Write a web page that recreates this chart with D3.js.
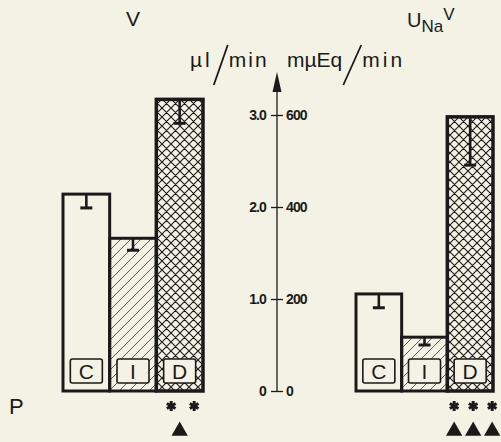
<!DOCTYPE html>
<html>
<head>
<meta charset="utf-8">
<script src="https://cdn.jsdelivr.net/npm/d3@7"></script>
<style>
  html, body { margin: 0; padding: 0; background: #f4f2e5; }
  svg { display: block; }
  text { font-family: "Liberation Sans", Arial, sans-serif; fill: #1a1a1a; }
</style>
</head>
<body>
<svg id="chart" width="501" height="442"></svg>
<script>
// ---- data ----
const categories = ["C", "I", "D"];
const flowValues = [2.14, 1.66, 3.17];      // V, µl/min
const flowErrors = [0.15, 0.13, 0.26];
const sodiumValues = [211, 117, 596];       // UNaV, mµEq/min
const sodiumErrors = [30, 17, 105];
const flowTicks = [0, 1, 2, 3];
const flowTickLabels = ["0", "1.0", "2.0", "3.0"];
const sodiumTicks = [0, 200, 400, 600];
const sodiumTickLabels = ["0", "200", "400", "600"];
const flowStars = [0, 0, 2];        // number of * under each bar
const flowTriangles = [0, 0, 1];    // number of ▲ under each bar
const sodiumStars = [0, 0, 3];
const sodiumTriangles = [0, 0, 3];

const ink = "#1a1a1a";
const bg = "#f4f2e5";
const svg = d3.select("#chart");

// patterns
const defs = svg.append("defs");
const hatch = defs.append("pattern").attr("id", "hatch")
  .attr("patternUnits", "userSpaceOnUse").attr("width", 10).attr("height", 10);
hatch.append("path").attr("d", "M-2,2 L2,-2 M0,10 L10,0 M8,12 L12,8")
  .attr("stroke", "#333").attr("stroke-width", 0.8);
const cross = defs.append("pattern").attr("id", "cross")
  .attr("patternUnits", "userSpaceOnUse").attr("width", 9).attr("height", 9);
cross.append("path").attr("d", "M-2,2 L2,-2 M0,9 L9,0 M7,11 L11,7 M-2,7 L2,11 M0,0 L9,9 M7,-2 L11,2")
  .attr("stroke", ink).attr("stroke-width", 1.1);
const fills = { C: bg, I: "url(#hatch)", D: "url(#cross)" };

// scales
const yFlow = d3.scaleLinear().domain([0, 3]).range([391, 115]);
const ySodium = d3.scaleLinear().domain([0, 600]).range([391, 115]);
const xLeft = d3.scaleBand().domain(categories).range([63, 203]);
const xRight = d3.scaleBand().domain(categories).range([356, 493]);

const triPath = d3.symbol(d3.symbolTriangle, 115)();

function panel(x, y, values, errors, stars, tris) {
  const g = svg.append("g");
  const data = categories.map((c, i) => ({ c, v: values[i], e: errors[i], s: stars[i], t: tris[i] }));
  const bw = x.bandwidth();
  const cx = d => x(d.c) + bw / 2;
  g.selectAll("rect.bar").data(data).join("rect")
    .attr("x", d => x(d.c)).attr("y", d => y(d.v))
    .attr("width", bw).attr("height", d => y(0) - y(d.v))
    .attr("fill", d => fills[d.c]).attr("stroke", ink)
    .attr("stroke-width", d => d.c === "D" ? 3.5 : 3);
  // error bars
  const eb = g.selectAll("g.err").data(data).join("g");
  eb.append("line").attr("x1", cx).attr("x2", cx)
    .attr("y1", d => y(d.v)).attr("y2", d => y(d.v - d.e))
    .attr("stroke", ink).attr("stroke-width", 2.6);
  eb.append("line").attr("x1", d => cx(d) - 6).attr("x2", d => cx(d) + 6)
    .attr("y1", d => y(d.v - d.e)).attr("y2", d => y(d.v - d.e))
    .attr("stroke", ink).attr("stroke-width", 3);
  // label boxes
  g.selectAll("rect.lab").data(data).join("rect")
    .attr("x", d => cx(d) - 16).attr("y", y(0) - 32)
    .attr("width", 32).attr("height", 24).attr("rx", 2)
    .attr("fill", bg).attr("stroke", ink).attr("stroke-width", 1.6);
  g.selectAll("text.lab").data(data).join("text")
    .attr("x", cx).attr("y", y(0) - 12)
    .attr("text-anchor", "middle").attr("font-size", 21).text(d => d.c);
  // significance markers
  data.forEach(d => {
    const c0 = cx(d) + 3;
    d3.range(d.s).forEach(k => {
      const px = c0 + (k - (d.s - 1) / 2) * (d.s > 2 ? 19 : 23);
      const st = g.append("g").attr("transform", `translate(${px},406)`);
      [0, 60, 120].forEach(a => st.append("line")
        .attr("x1", 0).attr("y1", -5).attr("x2", 0).attr("y2", 5)
        .attr("transform", `rotate(${a})`)
        .attr("stroke", ink).attr("stroke-width", 3));
      st.append("circle").attr("r", 2.5).attr("fill", ink);
    });
    d3.range(d.t).forEach(k => {
      const px = (d.t > 1 ? c0 + (k - (d.t - 1) / 2) * 19 : cx(d));
      g.append("path").attr("d", triPath)
        .attr("transform", `translate(${px},431)`).attr("fill", ink);
    });
  });
}
panel(xLeft, yFlow, flowValues, flowErrors, flowStars, flowTriangles);
panel(xRight, ySodium, sodiumValues, sodiumErrors, sodiumStars, sodiumTriangles);

// central axis
const ax = 277;
const leftAxis = svg.append("g").attr("transform", `translate(${ax},0)`)
  .call(d3.axisLeft(yFlow).tickValues(flowTicks).tickSize(6).tickPadding(5)
    .tickFormat((d, i) => flowTickLabels[i]));
const rightAxis = svg.append("g").attr("transform", `translate(${ax},0)`)
  .call(d3.axisRight(ySodium).tickValues(sodiumTicks).tickSize(6).tickPadding(3)
    .tickFormat((d, i) => sodiumTickLabels[i]));
[leftAxis, rightAxis].forEach(a => {
  a.select(".domain").remove();
  a.selectAll(".tick line").attr("stroke", ink).attr("stroke-width", 1.3);
  a.selectAll(".tick text").attr("fill", ink).attr("font-size", 14)
    .attr("font-weight", "bold").attr("letter-spacing", -0.9)
    .attr("font-family", "\"Liberation Sans\", Arial, sans-serif");
});
svg.append("line").attr("x1", ax).attr("x2", ax).attr("y1", yFlow(0)).attr("y2", 86)
  .attr("stroke", ink).attr("stroke-width", 1.3);
svg.append("path").attr("d", `M${ax},72 L${ax - 4.5},92 L${ax + 4.5},92 Z`).attr("fill", ink);

// units: text pieces joined by a tall thin slash
function unitLabel(x0, before, after, spBefore, slashW, spAfter) {
  const t1 = svg.append("text").attr("x", x0).attr("y", 67).attr("font-size", 21)
    .attr("letter-spacing", spBefore).text(before);
  const w1 = t1.node().getComputedTextLength();
  const sx = x0 + w1 + 1;
  svg.append("line").attr("x1", sx).attr("y1", 85).attr("x2", sx + slashW).attr("y2", 45)
    .attr("stroke", ink).attr("stroke-width", 1.8);
  svg.append("text").attr("x", sx + slashW + 1).attr("y", 67).attr("font-size", 21)
    .attr("letter-spacing", spAfter).text(after);
}
unitLabel(190, "µl", "min", 3, 14, 2);
unitLabel(287, "mµEq", "min", 0, 18, 3);

// titles
svg.append("text").attr("x", 133).attr("y", 26).attr("text-anchor", "middle")
  .attr("font-size", 21).text("V");
const t2 = svg.append("text").attr("x", 407).attr("y", 27).attr("font-size", 20);
t2.append("tspan").text("U");
t2.append("tspan").attr("font-size", 17).attr("dy", 5).text("Na");
t2.append("tspan").attr("font-size", 17).attr("dy", -12).text("V");

svg.append("text").attr("x", 9).attr("y", 414).attr("font-size", 22).text("P");
</script>
</body>
</html>
